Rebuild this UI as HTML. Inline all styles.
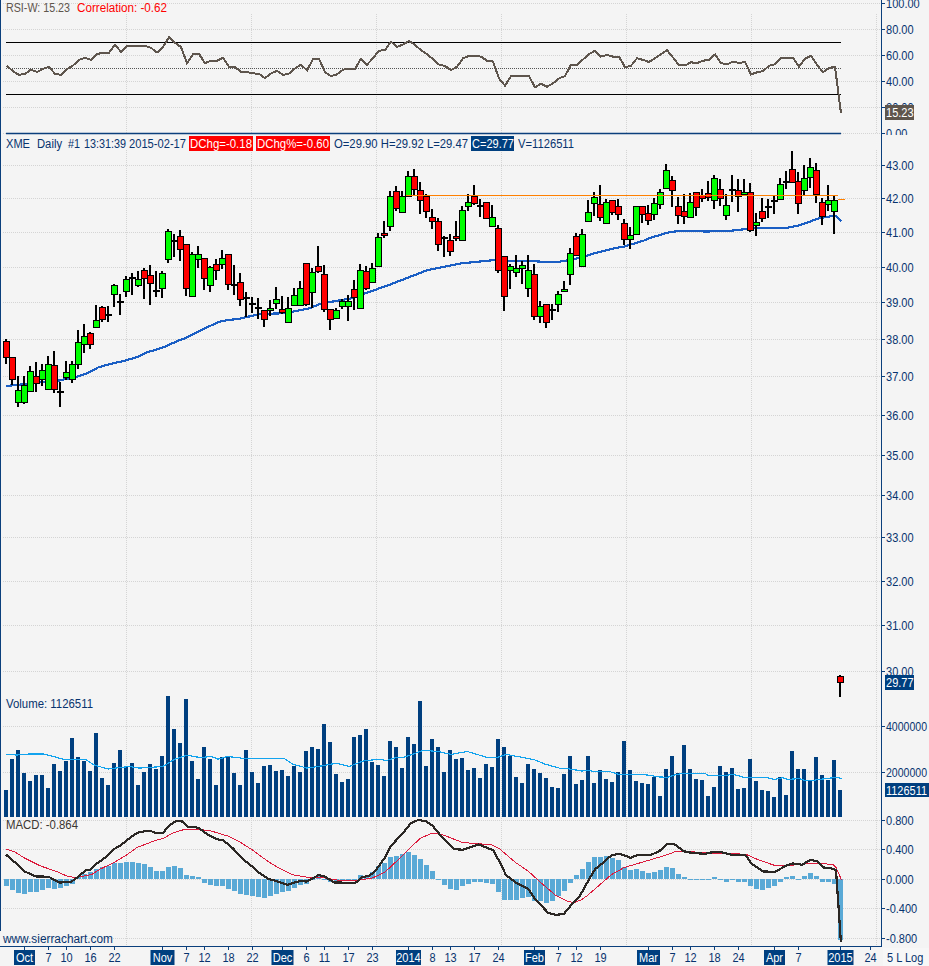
<!DOCTYPE html>
<html><head><meta charset="utf-8"><style>html,body{margin:0;padding:0;background:#f4f4f4;width:929px;height:966px;overflow:hidden}svg text{font-family:"Liberation Sans", sans-serif}</style></head>
<body><svg width="929" height="966" viewBox="0 0 929 966" style="display:block" font-family="Liberation Sans, sans-serif"><rect x="0" y="0" width="929" height="966" fill="#f4f4f4"/>
<line x1="3" y1="3.5" x2="880" y2="3.5" stroke="#d4d4d4" stroke-width="1" stroke-dasharray="1 1"/>
<line x1="3" y1="29.5" x2="880" y2="29.5" stroke="#d4d4d4" stroke-width="1" stroke-dasharray="1 1"/>
<line x1="3" y1="55.5" x2="880" y2="55.5" stroke="#d4d4d4" stroke-width="1" stroke-dasharray="1 1"/>
<line x1="3" y1="81.5" x2="880" y2="81.5" stroke="#d4d4d4" stroke-width="1" stroke-dasharray="1 1"/>
<line x1="3" y1="107.5" x2="880" y2="107.5" stroke="#d4d4d4" stroke-width="1" stroke-dasharray="1 1"/>
<line x1="3" y1="133.5" x2="880" y2="133.5" stroke="#d4d4d4" stroke-width="1" stroke-dasharray="1 1"/>
<line x1="3" y1="165.5" x2="880" y2="165.5" stroke="#d4d4d4" stroke-width="1" stroke-dasharray="1 1"/>
<line x1="3" y1="198.5" x2="880" y2="198.5" stroke="#d4d4d4" stroke-width="1" stroke-dasharray="1 1"/>
<line x1="3" y1="232.5" x2="880" y2="232.5" stroke="#d4d4d4" stroke-width="1" stroke-dasharray="1 1"/>
<line x1="3" y1="267.5" x2="880" y2="267.5" stroke="#d4d4d4" stroke-width="1" stroke-dasharray="1 1"/>
<line x1="3" y1="302.5" x2="880" y2="302.5" stroke="#d4d4d4" stroke-width="1" stroke-dasharray="1 1"/>
<line x1="3" y1="339.5" x2="880" y2="339.5" stroke="#d4d4d4" stroke-width="1" stroke-dasharray="1 1"/>
<line x1="3" y1="376.5" x2="880" y2="376.5" stroke="#d4d4d4" stroke-width="1" stroke-dasharray="1 1"/>
<line x1="3" y1="415.5" x2="880" y2="415.5" stroke="#d4d4d4" stroke-width="1" stroke-dasharray="1 1"/>
<line x1="3" y1="455.5" x2="880" y2="455.5" stroke="#d4d4d4" stroke-width="1" stroke-dasharray="1 1"/>
<line x1="3" y1="495.5" x2="880" y2="495.5" stroke="#d4d4d4" stroke-width="1" stroke-dasharray="1 1"/>
<line x1="3" y1="537.5" x2="880" y2="537.5" stroke="#d4d4d4" stroke-width="1" stroke-dasharray="1 1"/>
<line x1="3" y1="581.5" x2="880" y2="581.5" stroke="#d4d4d4" stroke-width="1" stroke-dasharray="1 1"/>
<line x1="3" y1="625.5" x2="880" y2="625.5" stroke="#d4d4d4" stroke-width="1" stroke-dasharray="1 1"/>
<line x1="3" y1="671.5" x2="880" y2="671.5" stroke="#d4d4d4" stroke-width="1" stroke-dasharray="1 1"/>
<line x1="3" y1="726.5" x2="880" y2="726.5" stroke="#d4d4d4" stroke-width="1" stroke-dasharray="1 1"/>
<line x1="3" y1="772.5" x2="880" y2="772.5" stroke="#d4d4d4" stroke-width="1" stroke-dasharray="1 1"/>
<line x1="3" y1="820.5" x2="880" y2="820.5" stroke="#d4d4d4" stroke-width="1" stroke-dasharray="1 1"/>
<line x1="3" y1="849.5" x2="880" y2="849.5" stroke="#d4d4d4" stroke-width="1" stroke-dasharray="1 1"/>
<line x1="3" y1="879.5" x2="880" y2="879.5" stroke="#d4d4d4" stroke-width="1" stroke-dasharray="1 1"/>
<line x1="3" y1="908.5" x2="880" y2="908.5" stroke="#d4d4d4" stroke-width="1" stroke-dasharray="1 1"/>
<line x1="3" y1="938.5" x2="880" y2="938.5" stroke="#d4d4d4" stroke-width="1" stroke-dasharray="1 1"/>
<line x1="126.5" y1="14" x2="126.5" y2="134" stroke="#d4d4d4" stroke-width="1" stroke-dasharray="1 1"/>
<line x1="126.5" y1="150" x2="126.5" y2="945" stroke="#d4d4d4" stroke-width="1" stroke-dasharray="1 1"/>
<line x1="251.5" y1="14" x2="251.5" y2="134" stroke="#d4d4d4" stroke-width="1" stroke-dasharray="1 1"/>
<line x1="251.5" y1="150" x2="251.5" y2="945" stroke="#d4d4d4" stroke-width="1" stroke-dasharray="1 1"/>
<line x1="376.5" y1="14" x2="376.5" y2="134" stroke="#d4d4d4" stroke-width="1" stroke-dasharray="1 1"/>
<line x1="376.5" y1="150" x2="376.5" y2="945" stroke="#d4d4d4" stroke-width="1" stroke-dasharray="1 1"/>
<line x1="501.5" y1="14" x2="501.5" y2="134" stroke="#d4d4d4" stroke-width="1" stroke-dasharray="1 1"/>
<line x1="501.5" y1="150" x2="501.5" y2="945" stroke="#d4d4d4" stroke-width="1" stroke-dasharray="1 1"/>
<line x1="626.5" y1="14" x2="626.5" y2="134" stroke="#d4d4d4" stroke-width="1" stroke-dasharray="1 1"/>
<line x1="626.5" y1="150" x2="626.5" y2="945" stroke="#d4d4d4" stroke-width="1" stroke-dasharray="1 1"/>
<line x1="751.5" y1="14" x2="751.5" y2="134" stroke="#d4d4d4" stroke-width="1" stroke-dasharray="1 1"/>
<line x1="751.5" y1="150" x2="751.5" y2="945" stroke="#d4d4d4" stroke-width="1" stroke-dasharray="1 1"/>
<line x1="876.5" y1="14" x2="876.5" y2="134" stroke="#d4d4d4" stroke-width="1" stroke-dasharray="1 1"/>
<line x1="876.5" y1="150" x2="876.5" y2="945" stroke="#d4d4d4" stroke-width="1" stroke-dasharray="1 1"/>
<line x1="6" y1="42.5" x2="841" y2="42.5" stroke="#000" stroke-width="1.2"/>
<line x1="6" y1="94.5" x2="841" y2="94.5" stroke="#000" stroke-width="1.2"/>
<line x1="6" y1="68.5" x2="841" y2="68.5" stroke="#555" stroke-width="1" stroke-dasharray="1 1"/>
<line x1="6" y1="133.5" x2="841" y2="133.5" stroke="#0b3f7c" stroke-width="1.4"/>
<polyline points="7,65.8 13,71.2 19,74.9 25,73.9 31,69.6 37,72 43,68.8 49,66.8 55,73.9 61,74.9 67,69 73,65.5 79,59.9 85,57.8 91,59.9 97,54.2 103,52.6 109,52.6 115,44.9 121,51.8 127,46.1 133,45.7 139,45.7 145,45.7 151,47.8 157,52.6 163,47 169,37.3 175,42.9 181,47 187,63.1 193,54.2 199,53.9 205,63.1 211,60.7 217,60.7 223,57.8 229,66.8 235,67.1 241,71.7 247,72 253,73.3 259,73.9 265,78.1 271,73.6 277,70.7 283,74.9 289,73.6 295,68.5 301,64.7 307,70.4 313,59.1 319,58.7 325,72.3 331,76 337,74.4 343,69.6 349,68.8 355,68.8 361,58.7 367,64.7 373,58.3 379,50.7 385,50.2 391,41.6 397,47 403,44.5 409,41 415,44.9 421,50.2 427,54.2 433,59.1 439,64.5 445,66 451,70 457,66.8 463,58.3 469,55.8 475,55.8 481,56.6 487,60.7 493,61.5 499,78.4 505,85.7 511,76 517,76 523,76 529,76 535,87.3 541,83.6 547,86.8 553,83.3 559,78.4 565,76 571,64.7 577,64.7 583,59.5 589,54.2 595,50.7 601,56.6 607,55 613,56.6 619,56.6 625,67.1 631,65.8 637,58.3 643,59.9 649,62 655,58.3 661,54.2 667,50.2 673,57.5 679,65.2 685,65.5 691,62.3 697,63.1 703,60.7 709,59.9 715,54.5 721,63.1 727,64.5 733,61.5 739,63.1 745,62 751,74.4 757,72.3 763,71.2 769,65.8 775,64.2 781,58.3 787,57.8 793,57.8 799,66.8 805,58.7 811,55.8 817,64.7 823,72.3 829,68 835,66.8 841,113.2" fill="none" stroke="#5e554d" stroke-width="2" stroke-linejoin="miter" shape-rendering="crispEdges"/>
<polyline points="6.3,386 16.5,385 25.8,384 33,382.5 45,381.8 59.4,380.5 66,379 76,376.8 82.8,375 90,371.9 98,367.5 111,363.8 125.5,360.6 138.4,356.5 146.5,352.5 162.7,347.6 178.8,340.4 186.9,337.5 203,329.1 219.2,321.8 227.3,320.2 240,318.6 253,315.6 261.2,314 285.4,313.2 293.5,311.5 309.7,308.3 321,303.5 330.7,301.9 350,298.6 366,293 387,285.7 427.8,270 461.7,263.3 494,260.1 508,260.7 531,261 541.8,261.7 559.6,261.7 575.7,258.8 585,256.6 591.9,253.9 608,249.9 617.3,247.7 624.2,246.6 645,240.2 649.6,238 669,232.3 681.9,230.7 706,231.5 729,231 745.8,229.1 754.8,227.8 787,227.8 800,225.2 819.4,218.1 835,215.6 841.4,221.1" fill="none" stroke="#1a5ec4" stroke-width="2.2" stroke-linejoin="round" shape-rendering="crispEdges"/>
<rect x="5" y="339" width="2" height="25" fill="#000"/>
<rect x="3" y="341" width="7" height="17" fill="#000"/>
<rect x="4" y="342" width="5" height="15" fill="#ff0000"/>
<rect x="11" y="357" width="2" height="28" fill="#000"/>
<rect x="9" y="357" width="7" height="23" fill="#000"/>
<rect x="10" y="358" width="5" height="21" fill="#ff0000"/>
<rect x="17" y="376" width="2" height="31" fill="#000"/>
<rect x="15" y="390" width="7" height="13" fill="#000"/>
<rect x="16" y="391" width="5" height="11" fill="#00ff00"/>
<rect x="23" y="376" width="2" height="28" fill="#000"/>
<rect x="21" y="385" width="7" height="18" fill="#000"/>
<rect x="22" y="386" width="5" height="16" fill="#00ff00"/>
<rect x="29" y="366" width="2" height="26" fill="#000"/>
<rect x="27" y="371" width="7" height="21" fill="#000"/>
<rect x="28" y="372" width="5" height="19" fill="#00ff00"/>
<rect x="35" y="362" width="2" height="30" fill="#000"/>
<rect x="33" y="376" width="7" height="8" fill="#000"/>
<rect x="34" y="377" width="5" height="6" fill="#ff0000"/>
<rect x="41" y="364" width="2" height="22" fill="#000"/>
<rect x="39" y="370" width="7" height="10" fill="#000"/>
<rect x="40" y="371" width="5" height="8" fill="#00ff00"/>
<rect x="47" y="356" width="2" height="34" fill="#000"/>
<rect x="45" y="364" width="7" height="26" fill="#000"/>
<rect x="46" y="365" width="5" height="24" fill="#00ff00"/>
<rect x="53" y="351" width="2" height="42" fill="#000"/>
<rect x="51" y="365" width="7" height="25" fill="#000"/>
<rect x="52" y="366" width="5" height="23" fill="#ff0000"/>
<rect x="59" y="382" width="2" height="25" fill="#000"/>
<rect x="57" y="391" width="7" height="2" fill="#000"/>
<rect x="65" y="361" width="2" height="19" fill="#000"/>
<rect x="63" y="372" width="7" height="6" fill="#000"/>
<rect x="64" y="373" width="5" height="4" fill="#00ff00"/>
<rect x="71" y="361" width="2" height="22" fill="#000"/>
<rect x="69" y="364" width="7" height="16" fill="#000"/>
<rect x="70" y="365" width="5" height="14" fill="#00ff00"/>
<rect x="77" y="330" width="2" height="39" fill="#000"/>
<rect x="75" y="342" width="7" height="23" fill="#000"/>
<rect x="76" y="343" width="5" height="21" fill="#00ff00"/>
<rect x="83" y="324" width="2" height="29" fill="#000"/>
<rect x="81" y="336" width="7" height="9" fill="#000"/>
<rect x="82" y="337" width="5" height="7" fill="#00ff00"/>
<rect x="89" y="332" width="2" height="17" fill="#000"/>
<rect x="87" y="333" width="7" height="12" fill="#000"/>
<rect x="88" y="334" width="5" height="10" fill="#ff0000"/>
<rect x="95" y="305" width="2" height="23" fill="#000"/>
<rect x="93" y="320" width="7" height="8" fill="#000"/>
<rect x="94" y="321" width="5" height="6" fill="#00ff00"/>
<rect x="101" y="306" width="2" height="16" fill="#000"/>
<rect x="99" y="307" width="7" height="13" fill="#000"/>
<rect x="100" y="308" width="5" height="11" fill="#ff0000"/>
<rect x="107" y="306" width="2" height="16" fill="#000"/>
<rect x="105" y="314" width="7" height="2" fill="#000"/>
<rect x="113" y="284" width="2" height="23" fill="#000"/>
<rect x="111" y="285" width="7" height="10" fill="#000"/>
<rect x="112" y="286" width="5" height="8" fill="#00ff00"/>
<rect x="119" y="294" width="2" height="21" fill="#000"/>
<rect x="117" y="301" width="7" height="2" fill="#000"/>
<rect x="125" y="276" width="2" height="21" fill="#000"/>
<rect x="123" y="279" width="7" height="13" fill="#000"/>
<rect x="124" y="280" width="5" height="11" fill="#00ff00"/>
<rect x="131" y="273" width="2" height="22" fill="#000"/>
<rect x="129" y="277" width="7" height="2" fill="#000"/>
<rect x="137" y="271" width="2" height="16" fill="#000"/>
<rect x="135" y="279" width="7" height="7" fill="#000"/>
<rect x="136" y="280" width="5" height="5" fill="#00ff00"/>
<rect x="143" y="268" width="2" height="31" fill="#000"/>
<rect x="141" y="270" width="7" height="9" fill="#000"/>
<rect x="142" y="271" width="5" height="7" fill="#ff0000"/>
<rect x="149" y="265" width="2" height="40" fill="#000"/>
<rect x="147" y="275" width="7" height="9" fill="#000"/>
<rect x="148" y="276" width="5" height="7" fill="#ff0000"/>
<rect x="155" y="271" width="2" height="26" fill="#000"/>
<rect x="153" y="290" width="7" height="2" fill="#000"/>
<rect x="161" y="271" width="2" height="27" fill="#000"/>
<rect x="159" y="273" width="7" height="16" fill="#000"/>
<rect x="160" y="274" width="5" height="14" fill="#00ff00"/>
<rect x="167" y="229" width="2" height="34" fill="#000"/>
<rect x="165" y="231" width="7" height="29" fill="#000"/>
<rect x="166" y="232" width="5" height="27" fill="#00ff00"/>
<rect x="173" y="234" width="2" height="23" fill="#000"/>
<rect x="171" y="240" width="7" height="2" fill="#000"/>
<rect x="179" y="230" width="2" height="31" fill="#000"/>
<rect x="177" y="236" width="7" height="14" fill="#000"/>
<rect x="178" y="237" width="5" height="12" fill="#ff0000"/>
<rect x="185" y="244" width="2" height="52" fill="#000"/>
<rect x="183" y="244" width="7" height="45" fill="#000"/>
<rect x="184" y="245" width="5" height="43" fill="#ff0000"/>
<rect x="191" y="252" width="2" height="45" fill="#000"/>
<rect x="189" y="254" width="7" height="43" fill="#000"/>
<rect x="190" y="255" width="5" height="41" fill="#00ff00"/>
<rect x="197" y="246" width="2" height="22" fill="#000"/>
<rect x="195" y="254" width="7" height="6" fill="#000"/>
<rect x="196" y="255" width="5" height="4" fill="#00ff00"/>
<rect x="203" y="258" width="2" height="32" fill="#000"/>
<rect x="201" y="258" width="7" height="21" fill="#000"/>
<rect x="202" y="259" width="5" height="19" fill="#ff0000"/>
<rect x="209" y="266" width="2" height="26" fill="#000"/>
<rect x="207" y="267" width="7" height="19" fill="#000"/>
<rect x="208" y="268" width="5" height="17" fill="#00ff00"/>
<rect x="215" y="259" width="2" height="21" fill="#000"/>
<rect x="213" y="264" width="7" height="7" fill="#000"/>
<rect x="214" y="265" width="5" height="5" fill="#ff0000"/>
<rect x="221" y="250" width="2" height="19" fill="#000"/>
<rect x="219" y="258" width="7" height="7" fill="#000"/>
<rect x="220" y="259" width="5" height="5" fill="#00ff00"/>
<rect x="227" y="254" width="2" height="36" fill="#000"/>
<rect x="225" y="254" width="7" height="31" fill="#000"/>
<rect x="226" y="255" width="5" height="29" fill="#ff0000"/>
<rect x="233" y="265" width="2" height="30" fill="#000"/>
<rect x="231" y="284" width="7" height="2" fill="#000"/>
<rect x="239" y="273" width="2" height="33" fill="#000"/>
<rect x="237" y="282" width="7" height="18" fill="#000"/>
<rect x="238" y="283" width="5" height="16" fill="#ff0000"/>
<rect x="245" y="292" width="2" height="25" fill="#000"/>
<rect x="243" y="297" width="7" height="2" fill="#000"/>
<rect x="251" y="297" width="2" height="16" fill="#000"/>
<rect x="249" y="303" width="7" height="2" fill="#000"/>
<rect x="257" y="298" width="2" height="21" fill="#000"/>
<rect x="255" y="307" width="7" height="2" fill="#000"/>
<rect x="263" y="310" width="2" height="17" fill="#000"/>
<rect x="261" y="310" width="7" height="10" fill="#000"/>
<rect x="262" y="311" width="5" height="8" fill="#ff0000"/>
<rect x="269" y="300" width="2" height="16" fill="#000"/>
<rect x="267" y="308" width="7" height="3" fill="#000"/>
<rect x="268" y="309" width="5" height="1" fill="#00ff00"/>
<rect x="275" y="287" width="2" height="22" fill="#000"/>
<rect x="273" y="299" width="7" height="5" fill="#000"/>
<rect x="274" y="300" width="5" height="3" fill="#00ff00"/>
<rect x="281" y="296" width="2" height="18" fill="#000"/>
<rect x="279" y="309" width="7" height="4" fill="#000"/>
<rect x="280" y="310" width="5" height="2" fill="#ff0000"/>
<rect x="287" y="297" width="2" height="26" fill="#000"/>
<rect x="285" y="308" width="7" height="15" fill="#000"/>
<rect x="286" y="309" width="5" height="13" fill="#00ff00"/>
<rect x="293" y="288" width="2" height="18" fill="#000"/>
<rect x="291" y="295" width="7" height="11" fill="#000"/>
<rect x="292" y="296" width="5" height="9" fill="#00ff00"/>
<rect x="299" y="281" width="2" height="25" fill="#000"/>
<rect x="297" y="288" width="7" height="18" fill="#000"/>
<rect x="298" y="289" width="5" height="16" fill="#00ff00"/>
<rect x="305" y="263" width="2" height="43" fill="#000"/>
<rect x="303" y="263" width="7" height="42" fill="#000"/>
<rect x="304" y="264" width="5" height="40" fill="#ff0000"/>
<rect x="311" y="268" width="2" height="40" fill="#000"/>
<rect x="309" y="272" width="7" height="21" fill="#000"/>
<rect x="310" y="273" width="5" height="19" fill="#00ff00"/>
<rect x="317" y="246" width="2" height="27" fill="#000"/>
<rect x="315" y="266" width="7" height="6" fill="#000"/>
<rect x="316" y="267" width="5" height="4" fill="#ff0000"/>
<rect x="323" y="265" width="2" height="47" fill="#000"/>
<rect x="321" y="274" width="7" height="36" fill="#000"/>
<rect x="322" y="275" width="5" height="34" fill="#ff0000"/>
<rect x="329" y="309" width="2" height="21" fill="#000"/>
<rect x="327" y="309" width="7" height="11" fill="#000"/>
<rect x="328" y="310" width="5" height="9" fill="#ff0000"/>
<rect x="335" y="308" width="2" height="11" fill="#000"/>
<rect x="333" y="310" width="7" height="9" fill="#000"/>
<rect x="334" y="311" width="5" height="7" fill="#00ff00"/>
<rect x="341" y="299" width="2" height="10" fill="#000"/>
<rect x="339" y="301" width="7" height="6" fill="#000"/>
<rect x="340" y="302" width="5" height="4" fill="#00ff00"/>
<rect x="347" y="295" width="2" height="26" fill="#000"/>
<rect x="345" y="301" width="7" height="6" fill="#000"/>
<rect x="346" y="302" width="5" height="4" fill="#00ff00"/>
<rect x="353" y="280" width="2" height="30" fill="#000"/>
<rect x="351" y="289" width="7" height="9" fill="#000"/>
<rect x="352" y="290" width="5" height="7" fill="#ff0000"/>
<rect x="359" y="264" width="2" height="45" fill="#000"/>
<rect x="357" y="270" width="7" height="39" fill="#000"/>
<rect x="358" y="271" width="5" height="37" fill="#00ff00"/>
<rect x="365" y="266" width="2" height="24" fill="#000"/>
<rect x="363" y="271" width="7" height="18" fill="#000"/>
<rect x="364" y="272" width="5" height="16" fill="#ff0000"/>
<rect x="371" y="263" width="2" height="20" fill="#000"/>
<rect x="369" y="268" width="7" height="15" fill="#000"/>
<rect x="370" y="269" width="5" height="13" fill="#00ff00"/>
<rect x="377" y="233" width="2" height="34" fill="#000"/>
<rect x="375" y="237" width="7" height="30" fill="#000"/>
<rect x="376" y="238" width="5" height="28" fill="#00ff00"/>
<rect x="383" y="221" width="2" height="17" fill="#000"/>
<rect x="381" y="233" width="7" height="3" fill="#000"/>
<rect x="382" y="234" width="5" height="1" fill="#ff0000"/>
<rect x="389" y="191" width="2" height="40" fill="#000"/>
<rect x="387" y="196" width="7" height="31" fill="#000"/>
<rect x="388" y="197" width="5" height="29" fill="#00ff00"/>
<rect x="395" y="186" width="2" height="25" fill="#000"/>
<rect x="393" y="191" width="7" height="18" fill="#000"/>
<rect x="394" y="192" width="5" height="16" fill="#ff0000"/>
<rect x="401" y="191" width="2" height="22" fill="#000"/>
<rect x="399" y="196" width="7" height="17" fill="#000"/>
<rect x="400" y="197" width="5" height="15" fill="#00ff00"/>
<rect x="407" y="171" width="2" height="26" fill="#000"/>
<rect x="405" y="176" width="7" height="21" fill="#000"/>
<rect x="406" y="177" width="5" height="19" fill="#00ff00"/>
<rect x="413" y="169" width="2" height="27" fill="#000"/>
<rect x="411" y="176" width="7" height="14" fill="#000"/>
<rect x="412" y="177" width="5" height="12" fill="#ff0000"/>
<rect x="419" y="182" width="2" height="32" fill="#000"/>
<rect x="417" y="190" width="7" height="11" fill="#000"/>
<rect x="418" y="191" width="5" height="9" fill="#ff0000"/>
<rect x="425" y="194" width="2" height="24" fill="#000"/>
<rect x="423" y="196" width="7" height="16" fill="#000"/>
<rect x="424" y="197" width="5" height="14" fill="#ff0000"/>
<rect x="431" y="209" width="2" height="20" fill="#000"/>
<rect x="429" y="217" width="7" height="5" fill="#000"/>
<rect x="430" y="218" width="5" height="3" fill="#ff0000"/>
<rect x="437" y="218" width="2" height="33" fill="#000"/>
<rect x="435" y="221" width="7" height="24" fill="#000"/>
<rect x="436" y="222" width="5" height="22" fill="#ff0000"/>
<rect x="443" y="236" width="2" height="21" fill="#000"/>
<rect x="441" y="237" width="7" height="2" fill="#000"/>
<rect x="449" y="234" width="2" height="22" fill="#000"/>
<rect x="447" y="240" width="7" height="12" fill="#000"/>
<rect x="448" y="241" width="5" height="10" fill="#ff0000"/>
<rect x="455" y="221" width="2" height="20" fill="#000"/>
<rect x="453" y="236" width="7" height="3" fill="#000"/>
<rect x="454" y="237" width="5" height="1" fill="#ff0000"/>
<rect x="461" y="206" width="2" height="35" fill="#000"/>
<rect x="459" y="210" width="7" height="31" fill="#000"/>
<rect x="460" y="211" width="5" height="29" fill="#00ff00"/>
<rect x="467" y="194" width="2" height="17" fill="#000"/>
<rect x="465" y="202" width="7" height="5" fill="#000"/>
<rect x="466" y="203" width="5" height="3" fill="#00ff00"/>
<rect x="473" y="185" width="2" height="20" fill="#000"/>
<rect x="471" y="196" width="7" height="8" fill="#000"/>
<rect x="472" y="197" width="5" height="6" fill="#ff0000"/>
<rect x="479" y="199" width="2" height="18" fill="#000"/>
<rect x="477" y="205" width="7" height="2" fill="#000"/>
<rect x="485" y="202" width="2" height="17" fill="#000"/>
<rect x="483" y="202" width="7" height="17" fill="#000"/>
<rect x="484" y="203" width="5" height="15" fill="#ff0000"/>
<rect x="491" y="205" width="2" height="22" fill="#000"/>
<rect x="489" y="217" width="7" height="10" fill="#000"/>
<rect x="490" y="218" width="5" height="8" fill="#00ff00"/>
<rect x="497" y="225" width="2" height="48" fill="#000"/>
<rect x="495" y="228" width="7" height="43" fill="#000"/>
<rect x="496" y="229" width="5" height="41" fill="#ff0000"/>
<rect x="503" y="256" width="2" height="55" fill="#000"/>
<rect x="501" y="256" width="7" height="41" fill="#000"/>
<rect x="502" y="257" width="5" height="39" fill="#ff0000"/>
<rect x="509" y="264" width="2" height="25" fill="#000"/>
<rect x="507" y="266" width="7" height="5" fill="#000"/>
<rect x="508" y="267" width="5" height="3" fill="#00ff00"/>
<rect x="515" y="255" width="2" height="22" fill="#000"/>
<rect x="513" y="268" width="7" height="5" fill="#000"/>
<rect x="514" y="269" width="5" height="3" fill="#00ff00"/>
<rect x="521" y="261" width="2" height="23" fill="#000"/>
<rect x="519" y="265" width="7" height="4" fill="#000"/>
<rect x="520" y="266" width="5" height="2" fill="#00ff00"/>
<rect x="527" y="255" width="2" height="42" fill="#000"/>
<rect x="525" y="270" width="7" height="19" fill="#000"/>
<rect x="526" y="271" width="5" height="17" fill="#00ff00"/>
<rect x="533" y="264" width="2" height="56" fill="#000"/>
<rect x="531" y="274" width="7" height="43" fill="#000"/>
<rect x="532" y="275" width="5" height="41" fill="#ff0000"/>
<rect x="539" y="301" width="2" height="22" fill="#000"/>
<rect x="537" y="306" width="7" height="11" fill="#000"/>
<rect x="538" y="307" width="5" height="9" fill="#00ff00"/>
<rect x="545" y="304" width="2" height="24" fill="#000"/>
<rect x="543" y="304" width="7" height="19" fill="#000"/>
<rect x="544" y="305" width="5" height="17" fill="#ff0000"/>
<rect x="551" y="304" width="2" height="16" fill="#000"/>
<rect x="549" y="309" width="7" height="2" fill="#000"/>
<rect x="557" y="291" width="2" height="21" fill="#000"/>
<rect x="555" y="294" width="7" height="11" fill="#000"/>
<rect x="556" y="295" width="5" height="9" fill="#00ff00"/>
<rect x="563" y="281" width="2" height="11" fill="#000"/>
<rect x="561" y="289" width="7" height="3" fill="#000"/>
<rect x="562" y="290" width="5" height="1" fill="#00ff00"/>
<rect x="569" y="248" width="2" height="37" fill="#000"/>
<rect x="567" y="253" width="7" height="22" fill="#000"/>
<rect x="568" y="254" width="5" height="20" fill="#00ff00"/>
<rect x="575" y="233" width="2" height="23" fill="#000"/>
<rect x="573" y="236" width="7" height="20" fill="#000"/>
<rect x="574" y="237" width="5" height="18" fill="#ff0000"/>
<rect x="581" y="229" width="2" height="38" fill="#000"/>
<rect x="579" y="234" width="7" height="33" fill="#000"/>
<rect x="580" y="235" width="5" height="31" fill="#00ff00"/>
<rect x="587" y="200" width="2" height="22" fill="#000"/>
<rect x="585" y="212" width="7" height="10" fill="#000"/>
<rect x="586" y="213" width="5" height="8" fill="#00ff00"/>
<rect x="593" y="192" width="2" height="24" fill="#000"/>
<rect x="591" y="197" width="7" height="7" fill="#000"/>
<rect x="592" y="198" width="5" height="5" fill="#00ff00"/>
<rect x="599" y="185" width="2" height="36" fill="#000"/>
<rect x="597" y="204" width="7" height="14" fill="#000"/>
<rect x="598" y="205" width="5" height="12" fill="#ff0000"/>
<rect x="605" y="199" width="2" height="25" fill="#000"/>
<rect x="603" y="202" width="7" height="22" fill="#000"/>
<rect x="604" y="203" width="5" height="20" fill="#00ff00"/>
<rect x="611" y="200" width="2" height="15" fill="#000"/>
<rect x="609" y="200" width="7" height="13" fill="#000"/>
<rect x="610" y="201" width="5" height="11" fill="#ff0000"/>
<rect x="617" y="199" width="2" height="21" fill="#000"/>
<rect x="615" y="206" width="7" height="9" fill="#000"/>
<rect x="616" y="207" width="5" height="7" fill="#ff0000"/>
<rect x="623" y="219" width="2" height="26" fill="#000"/>
<rect x="621" y="223" width="7" height="17" fill="#000"/>
<rect x="622" y="224" width="5" height="15" fill="#ff0000"/>
<rect x="629" y="227" width="2" height="22" fill="#000"/>
<rect x="627" y="235" width="7" height="5" fill="#000"/>
<rect x="628" y="236" width="5" height="3" fill="#00ff00"/>
<rect x="635" y="206" width="2" height="29" fill="#000"/>
<rect x="633" y="206" width="7" height="29" fill="#000"/>
<rect x="634" y="207" width="5" height="27" fill="#00ff00"/>
<rect x="641" y="206" width="2" height="17" fill="#000"/>
<rect x="639" y="206" width="7" height="9" fill="#000"/>
<rect x="640" y="207" width="5" height="7" fill="#ff0000"/>
<rect x="647" y="205" width="2" height="20" fill="#000"/>
<rect x="645" y="213" width="7" height="8" fill="#000"/>
<rect x="646" y="214" width="5" height="6" fill="#ff0000"/>
<rect x="653" y="198" width="2" height="22" fill="#000"/>
<rect x="651" y="203" width="7" height="12" fill="#000"/>
<rect x="652" y="204" width="5" height="10" fill="#00ff00"/>
<rect x="659" y="189" width="2" height="20" fill="#000"/>
<rect x="657" y="192" width="7" height="13" fill="#000"/>
<rect x="658" y="193" width="5" height="11" fill="#00ff00"/>
<rect x="665" y="164" width="2" height="25" fill="#000"/>
<rect x="663" y="170" width="7" height="19" fill="#000"/>
<rect x="664" y="171" width="5" height="17" fill="#00ff00"/>
<rect x="671" y="176" width="2" height="31" fill="#000"/>
<rect x="669" y="180" width="7" height="11" fill="#000"/>
<rect x="670" y="181" width="5" height="9" fill="#ff0000"/>
<rect x="677" y="197" width="2" height="27" fill="#000"/>
<rect x="675" y="206" width="7" height="10" fill="#000"/>
<rect x="676" y="207" width="5" height="8" fill="#ff0000"/>
<rect x="683" y="194" width="2" height="30" fill="#000"/>
<rect x="681" y="211" width="7" height="6" fill="#000"/>
<rect x="682" y="212" width="5" height="4" fill="#ff0000"/>
<rect x="689" y="193" width="2" height="25" fill="#000"/>
<rect x="687" y="202" width="7" height="16" fill="#000"/>
<rect x="688" y="203" width="5" height="14" fill="#00ff00"/>
<rect x="695" y="192" width="2" height="24" fill="#000"/>
<rect x="693" y="192" width="7" height="16" fill="#000"/>
<rect x="694" y="193" width="5" height="14" fill="#ff0000"/>
<rect x="701" y="189" width="2" height="13" fill="#000"/>
<rect x="699" y="195" width="7" height="4" fill="#000"/>
<rect x="700" y="196" width="5" height="2" fill="#ff0000"/>
<rect x="707" y="181" width="2" height="20" fill="#000"/>
<rect x="705" y="193" width="7" height="5" fill="#000"/>
<rect x="706" y="194" width="5" height="3" fill="#ff0000"/>
<rect x="713" y="175" width="2" height="34" fill="#000"/>
<rect x="711" y="178" width="7" height="23" fill="#000"/>
<rect x="712" y="179" width="5" height="21" fill="#00ff00"/>
<rect x="719" y="179" width="2" height="27" fill="#000"/>
<rect x="717" y="189" width="7" height="10" fill="#000"/>
<rect x="718" y="190" width="5" height="8" fill="#ff0000"/>
<rect x="725" y="194" width="2" height="26" fill="#000"/>
<rect x="723" y="205" width="7" height="11" fill="#000"/>
<rect x="724" y="206" width="5" height="9" fill="#00ff00"/>
<rect x="731" y="175" width="2" height="27" fill="#000"/>
<rect x="729" y="189" width="7" height="2" fill="#000"/>
<rect x="737" y="179" width="2" height="33" fill="#000"/>
<rect x="735" y="190" width="7" height="7" fill="#000"/>
<rect x="736" y="191" width="5" height="5" fill="#ff0000"/>
<rect x="743" y="179" width="2" height="15" fill="#000"/>
<rect x="741" y="192" width="7" height="3" fill="#000"/>
<rect x="742" y="193" width="5" height="1" fill="#00ff00"/>
<rect x="749" y="183" width="2" height="49" fill="#000"/>
<rect x="747" y="192" width="7" height="39" fill="#000"/>
<rect x="748" y="193" width="5" height="37" fill="#ff0000"/>
<rect x="755" y="213" width="2" height="23" fill="#000"/>
<rect x="753" y="222" width="7" height="4" fill="#000"/>
<rect x="754" y="223" width="5" height="2" fill="#00ff00"/>
<rect x="761" y="198" width="2" height="24" fill="#000"/>
<rect x="759" y="211" width="7" height="8" fill="#000"/>
<rect x="760" y="212" width="5" height="6" fill="#ff0000"/>
<rect x="767" y="199" width="2" height="19" fill="#000"/>
<rect x="765" y="206" width="7" height="2" fill="#000"/>
<rect x="773" y="196" width="2" height="18" fill="#000"/>
<rect x="771" y="200" width="7" height="2" fill="#000"/>
<rect x="779" y="178" width="2" height="22" fill="#000"/>
<rect x="777" y="184" width="7" height="16" fill="#000"/>
<rect x="778" y="185" width="5" height="14" fill="#00ff00"/>
<rect x="785" y="171" width="2" height="18" fill="#000"/>
<rect x="783" y="181" width="7" height="2" fill="#000"/>
<rect x="791" y="151" width="2" height="32" fill="#000"/>
<rect x="789" y="169" width="7" height="14" fill="#000"/>
<rect x="790" y="170" width="5" height="12" fill="#ff0000"/>
<rect x="797" y="172" width="2" height="42" fill="#000"/>
<rect x="795" y="181" width="7" height="23" fill="#000"/>
<rect x="796" y="182" width="5" height="21" fill="#ff0000"/>
<rect x="803" y="165" width="2" height="31" fill="#000"/>
<rect x="801" y="178" width="7" height="13" fill="#000"/>
<rect x="802" y="179" width="5" height="11" fill="#00ff00"/>
<rect x="809" y="158" width="2" height="30" fill="#000"/>
<rect x="807" y="167" width="7" height="11" fill="#000"/>
<rect x="808" y="168" width="5" height="9" fill="#00ff00"/>
<rect x="815" y="163" width="2" height="40" fill="#000"/>
<rect x="813" y="170" width="7" height="25" fill="#000"/>
<rect x="814" y="171" width="5" height="23" fill="#ff0000"/>
<rect x="821" y="198" width="2" height="27" fill="#000"/>
<rect x="819" y="202" width="7" height="15" fill="#000"/>
<rect x="820" y="203" width="5" height="13" fill="#ff0000"/>
<rect x="827" y="185" width="2" height="26" fill="#000"/>
<rect x="825" y="200" width="7" height="5" fill="#000"/>
<rect x="826" y="201" width="5" height="3" fill="#00ff00"/>
<rect x="833" y="196" width="2" height="38" fill="#000"/>
<rect x="831" y="200" width="7" height="12" fill="#000"/>
<rect x="832" y="201" width="5" height="10" fill="#00ff00"/>
<rect x="839" y="675" width="2" height="22" fill="#000"/>
<rect x="837" y="676" width="7" height="7" fill="#000"/>
<rect x="838" y="677" width="5" height="5" fill="#ff0000"/>
<line x1="406" y1="195.5" x2="838" y2="195.5" stroke="#ff8000" stroke-width="1"/>
<line x1="838" y1="199.5" x2="845" y2="199.5" stroke="#ff8000" stroke-width="1"/>
<rect x="4" y="790" width="4" height="27" fill="#003f7f"/>
<rect x="10" y="759" width="4" height="58" fill="#003f7f"/>
<rect x="16" y="750" width="4" height="67" fill="#003f7f"/>
<rect x="22" y="773" width="4" height="44" fill="#003f7f"/>
<rect x="28" y="781" width="4" height="36" fill="#003f7f"/>
<rect x="34" y="775" width="4" height="42" fill="#003f7f"/>
<rect x="40" y="775" width="4" height="42" fill="#003f7f"/>
<rect x="46" y="788" width="4" height="29" fill="#003f7f"/>
<rect x="52" y="764" width="4" height="53" fill="#003f7f"/>
<rect x="58" y="771" width="4" height="46" fill="#003f7f"/>
<rect x="64" y="761" width="4" height="56" fill="#003f7f"/>
<rect x="70" y="738" width="4" height="79" fill="#003f7f"/>
<rect x="76" y="757" width="4" height="60" fill="#003f7f"/>
<rect x="82" y="761" width="4" height="56" fill="#003f7f"/>
<rect x="88" y="771" width="4" height="46" fill="#003f7f"/>
<rect x="94" y="733" width="4" height="84" fill="#003f7f"/>
<rect x="100" y="778" width="4" height="39" fill="#003f7f"/>
<rect x="106" y="785" width="4" height="32" fill="#003f7f"/>
<rect x="112" y="763" width="4" height="54" fill="#003f7f"/>
<rect x="118" y="750" width="4" height="67" fill="#003f7f"/>
<rect x="124" y="766" width="4" height="51" fill="#003f7f"/>
<rect x="130" y="763" width="4" height="54" fill="#003f7f"/>
<rect x="136" y="785" width="4" height="32" fill="#003f7f"/>
<rect x="142" y="772" width="4" height="45" fill="#003f7f"/>
<rect x="148" y="764" width="4" height="53" fill="#003f7f"/>
<rect x="154" y="769" width="4" height="48" fill="#003f7f"/>
<rect x="160" y="756" width="4" height="61" fill="#003f7f"/>
<rect x="166" y="696" width="4" height="121" fill="#003f7f"/>
<rect x="172" y="729" width="4" height="88" fill="#003f7f"/>
<rect x="178" y="743" width="4" height="74" fill="#003f7f"/>
<rect x="184" y="699" width="4" height="118" fill="#003f7f"/>
<rect x="190" y="761" width="4" height="56" fill="#003f7f"/>
<rect x="196" y="779" width="4" height="38" fill="#003f7f"/>
<rect x="202" y="747" width="4" height="70" fill="#003f7f"/>
<rect x="208" y="759" width="4" height="58" fill="#003f7f"/>
<rect x="214" y="785" width="4" height="32" fill="#003f7f"/>
<rect x="220" y="757" width="4" height="60" fill="#003f7f"/>
<rect x="226" y="757" width="4" height="60" fill="#003f7f"/>
<rect x="232" y="773" width="4" height="44" fill="#003f7f"/>
<rect x="238" y="785" width="4" height="32" fill="#003f7f"/>
<rect x="244" y="750" width="4" height="67" fill="#003f7f"/>
<rect x="250" y="772" width="4" height="45" fill="#003f7f"/>
<rect x="256" y="783" width="4" height="34" fill="#003f7f"/>
<rect x="262" y="766" width="4" height="51" fill="#003f7f"/>
<rect x="268" y="765" width="4" height="52" fill="#003f7f"/>
<rect x="274" y="771" width="4" height="46" fill="#003f7f"/>
<rect x="280" y="770" width="4" height="47" fill="#003f7f"/>
<rect x="286" y="776" width="4" height="41" fill="#003f7f"/>
<rect x="292" y="766" width="4" height="51" fill="#003f7f"/>
<rect x="298" y="772" width="4" height="45" fill="#003f7f"/>
<rect x="304" y="751" width="4" height="66" fill="#003f7f"/>
<rect x="310" y="747" width="4" height="70" fill="#003f7f"/>
<rect x="316" y="749" width="4" height="68" fill="#003f7f"/>
<rect x="322" y="724" width="4" height="93" fill="#003f7f"/>
<rect x="328" y="742" width="4" height="75" fill="#003f7f"/>
<rect x="334" y="774" width="4" height="43" fill="#003f7f"/>
<rect x="340" y="782" width="4" height="35" fill="#003f7f"/>
<rect x="346" y="779" width="4" height="38" fill="#003f7f"/>
<rect x="352" y="737" width="4" height="80" fill="#003f7f"/>
<rect x="358" y="735" width="4" height="82" fill="#003f7f"/>
<rect x="364" y="729" width="4" height="88" fill="#003f7f"/>
<rect x="370" y="762" width="4" height="55" fill="#003f7f"/>
<rect x="376" y="765" width="4" height="52" fill="#003f7f"/>
<rect x="382" y="776" width="4" height="41" fill="#003f7f"/>
<rect x="388" y="741" width="4" height="76" fill="#003f7f"/>
<rect x="394" y="747" width="4" height="70" fill="#003f7f"/>
<rect x="400" y="768" width="4" height="49" fill="#003f7f"/>
<rect x="406" y="737" width="4" height="80" fill="#003f7f"/>
<rect x="412" y="744" width="4" height="73" fill="#003f7f"/>
<rect x="418" y="701" width="4" height="116" fill="#003f7f"/>
<rect x="424" y="766" width="4" height="51" fill="#003f7f"/>
<rect x="430" y="739" width="4" height="78" fill="#003f7f"/>
<rect x="436" y="747" width="4" height="70" fill="#003f7f"/>
<rect x="442" y="772" width="4" height="45" fill="#003f7f"/>
<rect x="448" y="750" width="4" height="67" fill="#003f7f"/>
<rect x="454" y="759" width="4" height="58" fill="#003f7f"/>
<rect x="460" y="758" width="4" height="59" fill="#003f7f"/>
<rect x="466" y="770" width="4" height="47" fill="#003f7f"/>
<rect x="472" y="768" width="4" height="49" fill="#003f7f"/>
<rect x="478" y="778" width="4" height="39" fill="#003f7f"/>
<rect x="484" y="764" width="4" height="53" fill="#003f7f"/>
<rect x="490" y="767" width="4" height="50" fill="#003f7f"/>
<rect x="496" y="739" width="4" height="78" fill="#003f7f"/>
<rect x="502" y="747" width="4" height="70" fill="#003f7f"/>
<rect x="508" y="756" width="4" height="61" fill="#003f7f"/>
<rect x="514" y="777" width="4" height="40" fill="#003f7f"/>
<rect x="520" y="783" width="4" height="34" fill="#003f7f"/>
<rect x="526" y="764" width="4" height="53" fill="#003f7f"/>
<rect x="532" y="769" width="4" height="48" fill="#003f7f"/>
<rect x="538" y="773" width="4" height="44" fill="#003f7f"/>
<rect x="544" y="778" width="4" height="39" fill="#003f7f"/>
<rect x="550" y="787" width="4" height="30" fill="#003f7f"/>
<rect x="556" y="788" width="4" height="29" fill="#003f7f"/>
<rect x="562" y="774" width="4" height="43" fill="#003f7f"/>
<rect x="568" y="756" width="4" height="61" fill="#003f7f"/>
<rect x="574" y="784" width="4" height="33" fill="#003f7f"/>
<rect x="580" y="780" width="4" height="37" fill="#003f7f"/>
<rect x="586" y="756" width="4" height="61" fill="#003f7f"/>
<rect x="592" y="783" width="4" height="34" fill="#003f7f"/>
<rect x="598" y="770" width="4" height="47" fill="#003f7f"/>
<rect x="604" y="779" width="4" height="38" fill="#003f7f"/>
<rect x="610" y="782" width="4" height="35" fill="#003f7f"/>
<rect x="616" y="772" width="4" height="45" fill="#003f7f"/>
<rect x="622" y="741" width="4" height="76" fill="#003f7f"/>
<rect x="628" y="770" width="4" height="47" fill="#003f7f"/>
<rect x="634" y="781" width="4" height="36" fill="#003f7f"/>
<rect x="640" y="783" width="4" height="34" fill="#003f7f"/>
<rect x="646" y="784" width="4" height="33" fill="#003f7f"/>
<rect x="652" y="777" width="4" height="40" fill="#003f7f"/>
<rect x="658" y="796" width="4" height="21" fill="#003f7f"/>
<rect x="664" y="769" width="4" height="48" fill="#003f7f"/>
<rect x="670" y="756" width="4" height="61" fill="#003f7f"/>
<rect x="676" y="773" width="4" height="44" fill="#003f7f"/>
<rect x="682" y="745" width="4" height="72" fill="#003f7f"/>
<rect x="688" y="769" width="4" height="48" fill="#003f7f"/>
<rect x="694" y="779" width="4" height="38" fill="#003f7f"/>
<rect x="700" y="780" width="4" height="37" fill="#003f7f"/>
<rect x="706" y="796" width="4" height="21" fill="#003f7f"/>
<rect x="712" y="787" width="4" height="30" fill="#003f7f"/>
<rect x="718" y="766" width="4" height="51" fill="#003f7f"/>
<rect x="724" y="772" width="4" height="45" fill="#003f7f"/>
<rect x="730" y="768" width="4" height="49" fill="#003f7f"/>
<rect x="736" y="789" width="4" height="28" fill="#003f7f"/>
<rect x="742" y="788" width="4" height="29" fill="#003f7f"/>
<rect x="748" y="759" width="4" height="58" fill="#003f7f"/>
<rect x="754" y="781" width="4" height="36" fill="#003f7f"/>
<rect x="760" y="790" width="4" height="27" fill="#003f7f"/>
<rect x="766" y="791" width="4" height="26" fill="#003f7f"/>
<rect x="772" y="797" width="4" height="20" fill="#003f7f"/>
<rect x="778" y="777" width="4" height="40" fill="#003f7f"/>
<rect x="784" y="795" width="4" height="22" fill="#003f7f"/>
<rect x="790" y="751" width="4" height="66" fill="#003f7f"/>
<rect x="796" y="769" width="4" height="48" fill="#003f7f"/>
<rect x="802" y="769" width="4" height="48" fill="#003f7f"/>
<rect x="808" y="781" width="4" height="36" fill="#003f7f"/>
<rect x="814" y="757" width="4" height="60" fill="#003f7f"/>
<rect x="820" y="775" width="4" height="42" fill="#003f7f"/>
<rect x="826" y="780" width="4" height="37" fill="#003f7f"/>
<rect x="832" y="760" width="4" height="57" fill="#003f7f"/>
<rect x="838" y="790" width="4" height="27" fill="#003f7f"/>
<polyline points="6,754.4 16.5,755 24,754.5 29,754 43.6,754 64.6,759.5 85.6,759.2 93.7,764.9 108,769 129,766.5 139,768.1 147,767.6 163,766.5 174.5,759.2 187.4,755.2 200.3,757.6 211.6,756.5 218,759.2 227.7,756.5 243.9,758.4 260,758.4 284.2,758.4 292.3,764 307,768.1 323.3,765.7 336.2,763.2 349.1,766.5 363.7,760.8 379.8,759.2 386.3,760.5 396,757.6 404,757.3 412.1,754.4 423.4,750.3 438,751.5 451.1,754.4 467.3,751.5 486.7,757.3 498,757.3 506,754.4 519,756.8 535.1,760 544.8,764 559.3,768.1 567.4,768.6 582,771 588.7,770.5 595.1,771.6 609.7,771.6 619.4,774.5 643.6,774.5 659.7,777 667.8,777.3 675.9,774.5 684,773.4 705,773.3 708.2,775.4 726,775.4 732.7,774.2 744,777.3 765,777.3 774.7,779.4 782.7,777.8 787.6,779.4 798.9,778.6 805.4,780.5 811.8,780.5 826.3,778.6 836,777.3 841.7,778.6" fill="none" stroke="#12a3ee" stroke-width="1.2" shape-rendering="crispEdges"/>
<rect x="4" y="879" width="5" height="7" fill="#59a9d6"/>
<rect x="10" y="879" width="5" height="11" fill="#59a9d6"/>
<rect x="16" y="879" width="5" height="14" fill="#59a9d6"/>
<rect x="22" y="879" width="5" height="15" fill="#59a9d6"/>
<rect x="28" y="879" width="5" height="13" fill="#59a9d6"/>
<rect x="34" y="879" width="5" height="13" fill="#59a9d6"/>
<rect x="40" y="879" width="5" height="11" fill="#59a9d6"/>
<rect x="46" y="879" width="5" height="9" fill="#59a9d6"/>
<rect x="52" y="879" width="5" height="10" fill="#59a9d6"/>
<rect x="58" y="879" width="5" height="9" fill="#59a9d6"/>
<rect x="64" y="879" width="5" height="7" fill="#59a9d6"/>
<rect x="70" y="879" width="5" height="5" fill="#59a9d6"/>
<rect x="76" y="877" width="5" height="2" fill="#59a9d6"/>
<rect x="82" y="874" width="5" height="5" fill="#59a9d6"/>
<rect x="88" y="872" width="5" height="7" fill="#59a9d6"/>
<rect x="94" y="869" width="5" height="10" fill="#59a9d6"/>
<rect x="100" y="867" width="5" height="12" fill="#59a9d6"/>
<rect x="106" y="866" width="5" height="13" fill="#59a9d6"/>
<rect x="112" y="863" width="5" height="16" fill="#59a9d6"/>
<rect x="118" y="863" width="5" height="16" fill="#59a9d6"/>
<rect x="124" y="862" width="5" height="17" fill="#59a9d6"/>
<rect x="130" y="862" width="5" height="17" fill="#59a9d6"/>
<rect x="136" y="863" width="5" height="16" fill="#59a9d6"/>
<rect x="142" y="864" width="5" height="15" fill="#59a9d6"/>
<rect x="148" y="867" width="5" height="12" fill="#59a9d6"/>
<rect x="154" y="871" width="5" height="8" fill="#59a9d6"/>
<rect x="160" y="871" width="5" height="8" fill="#59a9d6"/>
<rect x="166" y="867" width="5" height="12" fill="#59a9d6"/>
<rect x="172" y="866" width="5" height="13" fill="#59a9d6"/>
<rect x="178" y="868" width="5" height="11" fill="#59a9d6"/>
<rect x="184" y="875" width="5" height="4" fill="#59a9d6"/>
<rect x="190" y="876" width="5" height="3" fill="#59a9d6"/>
<rect x="196" y="877" width="5" height="2" fill="#59a9d6"/>
<rect x="202" y="879" width="5" height="4" fill="#59a9d6"/>
<rect x="208" y="879" width="5" height="6" fill="#59a9d6"/>
<rect x="214" y="879" width="5" height="7" fill="#59a9d6"/>
<rect x="220" y="879" width="5" height="7" fill="#59a9d6"/>
<rect x="226" y="879" width="5" height="10" fill="#59a9d6"/>
<rect x="232" y="879" width="5" height="12" fill="#59a9d6"/>
<rect x="238" y="879" width="5" height="15" fill="#59a9d6"/>
<rect x="244" y="879" width="5" height="16" fill="#59a9d6"/>
<rect x="250" y="879" width="5" height="17" fill="#59a9d6"/>
<rect x="256" y="879" width="5" height="18" fill="#59a9d6"/>
<rect x="262" y="879" width="5" height="19" fill="#59a9d6"/>
<rect x="268" y="879" width="5" height="17" fill="#59a9d6"/>
<rect x="274" y="879" width="5" height="15" fill="#59a9d6"/>
<rect x="280" y="879" width="5" height="13" fill="#59a9d6"/>
<rect x="286" y="879" width="5" height="12" fill="#59a9d6"/>
<rect x="292" y="879" width="5" height="9" fill="#59a9d6"/>
<rect x="298" y="879" width="5" height="6" fill="#59a9d6"/>
<rect x="304" y="879" width="5" height="5" fill="#59a9d6"/>
<rect x="310" y="879" width="5" height="1" fill="#59a9d6"/>
<rect x="316" y="876" width="5" height="3" fill="#59a9d6"/>
<rect x="322" y="879" width="5" height="1" fill="#59a9d6"/>
<rect x="328" y="879" width="5" height="3" fill="#59a9d6"/>
<rect x="334" y="879" width="5" height="3" fill="#59a9d6"/>
<rect x="340" y="879" width="5" height="1" fill="#59a9d6"/>
<rect x="346" y="879" width="5" height="1" fill="#59a9d6"/>
<rect x="352" y="879" width="5" height="1" fill="#59a9d6"/>
<rect x="358" y="875" width="5" height="4" fill="#59a9d6"/>
<rect x="364" y="876" width="5" height="3" fill="#59a9d6"/>
<rect x="370" y="872" width="5" height="7" fill="#59a9d6"/>
<rect x="376" y="866" width="5" height="13" fill="#59a9d6"/>
<rect x="382" y="863" width="5" height="16" fill="#59a9d6"/>
<rect x="388" y="857" width="5" height="22" fill="#59a9d6"/>
<rect x="394" y="856" width="5" height="23" fill="#59a9d6"/>
<rect x="400" y="854" width="5" height="25" fill="#59a9d6"/>
<rect x="406" y="852" width="5" height="27" fill="#59a9d6"/>
<rect x="412" y="855" width="5" height="24" fill="#59a9d6"/>
<rect x="418" y="859" width="5" height="20" fill="#59a9d6"/>
<rect x="424" y="865" width="5" height="14" fill="#59a9d6"/>
<rect x="430" y="871" width="5" height="8" fill="#59a9d6"/>
<rect x="436" y="879" width="5" height="1" fill="#59a9d6"/>
<rect x="442" y="879" width="5" height="6" fill="#59a9d6"/>
<rect x="448" y="879" width="5" height="10" fill="#59a9d6"/>
<rect x="454" y="879" width="5" height="11" fill="#59a9d6"/>
<rect x="460" y="879" width="5" height="7" fill="#59a9d6"/>
<rect x="466" y="879" width="5" height="5" fill="#59a9d6"/>
<rect x="472" y="879" width="5" height="3" fill="#59a9d6"/>
<rect x="478" y="879" width="5" height="3" fill="#59a9d6"/>
<rect x="484" y="879" width="5" height="4" fill="#59a9d6"/>
<rect x="490" y="879" width="5" height="5" fill="#59a9d6"/>
<rect x="496" y="879" width="5" height="13" fill="#59a9d6"/>
<rect x="502" y="879" width="5" height="21" fill="#59a9d6"/>
<rect x="508" y="879" width="5" height="21" fill="#59a9d6"/>
<rect x="514" y="879" width="5" height="21" fill="#59a9d6"/>
<rect x="520" y="879" width="5" height="19" fill="#59a9d6"/>
<rect x="526" y="879" width="5" height="18" fill="#59a9d6"/>
<rect x="532" y="879" width="5" height="22" fill="#59a9d6"/>
<rect x="538" y="879" width="5" height="22" fill="#59a9d6"/>
<rect x="544" y="879" width="5" height="24" fill="#59a9d6"/>
<rect x="550" y="879" width="5" height="22" fill="#59a9d6"/>
<rect x="556" y="879" width="5" height="17" fill="#59a9d6"/>
<rect x="562" y="879" width="5" height="12" fill="#59a9d6"/>
<rect x="568" y="879" width="5" height="4" fill="#59a9d6"/>
<rect x="574" y="875" width="5" height="4" fill="#59a9d6"/>
<rect x="580" y="869" width="5" height="10" fill="#59a9d6"/>
<rect x="586" y="862" width="5" height="17" fill="#59a9d6"/>
<rect x="592" y="857" width="5" height="22" fill="#59a9d6"/>
<rect x="598" y="857" width="5" height="22" fill="#59a9d6"/>
<rect x="604" y="856" width="5" height="23" fill="#59a9d6"/>
<rect x="610" y="858" width="5" height="21" fill="#59a9d6"/>
<rect x="616" y="860" width="5" height="19" fill="#59a9d6"/>
<rect x="622" y="867" width="5" height="12" fill="#59a9d6"/>
<rect x="628" y="870" width="5" height="9" fill="#59a9d6"/>
<rect x="634" y="869" width="5" height="10" fill="#59a9d6"/>
<rect x="640" y="871" width="5" height="8" fill="#59a9d6"/>
<rect x="646" y="873" width="5" height="6" fill="#59a9d6"/>
<rect x="652" y="872" width="5" height="7" fill="#59a9d6"/>
<rect x="658" y="870" width="5" height="9" fill="#59a9d6"/>
<rect x="664" y="867" width="5" height="12" fill="#59a9d6"/>
<rect x="670" y="868" width="5" height="11" fill="#59a9d6"/>
<rect x="676" y="874" width="5" height="5" fill="#59a9d6"/>
<rect x="682" y="877" width="5" height="2" fill="#59a9d6"/>
<rect x="688" y="879" width="5" height="1" fill="#59a9d6"/>
<rect x="694" y="879" width="5" height="1" fill="#59a9d6"/>
<rect x="700" y="879" width="5" height="1" fill="#59a9d6"/>
<rect x="706" y="879" width="5" height="1" fill="#59a9d6"/>
<rect x="712" y="877" width="5" height="2" fill="#59a9d6"/>
<rect x="718" y="879" width="5" height="1" fill="#59a9d6"/>
<rect x="724" y="879" width="5" height="3" fill="#59a9d6"/>
<rect x="730" y="879" width="5" height="1" fill="#59a9d6"/>
<rect x="736" y="879" width="5" height="3" fill="#59a9d6"/>
<rect x="742" y="879" width="5" height="3" fill="#59a9d6"/>
<rect x="748" y="879" width="5" height="7" fill="#59a9d6"/>
<rect x="754" y="879" width="5" height="10" fill="#59a9d6"/>
<rect x="760" y="879" width="5" height="11" fill="#59a9d6"/>
<rect x="766" y="879" width="5" height="9" fill="#59a9d6"/>
<rect x="772" y="879" width="5" height="7" fill="#59a9d6"/>
<rect x="778" y="879" width="5" height="3" fill="#59a9d6"/>
<rect x="784" y="877" width="5" height="2" fill="#59a9d6"/>
<rect x="790" y="876" width="5" height="3" fill="#59a9d6"/>
<rect x="796" y="879" width="5" height="1" fill="#59a9d6"/>
<rect x="802" y="876" width="5" height="3" fill="#59a9d6"/>
<rect x="808" y="873" width="5" height="6" fill="#59a9d6"/>
<rect x="814" y="876" width="5" height="3" fill="#59a9d6"/>
<rect x="820" y="879" width="5" height="3" fill="#59a9d6"/>
<rect x="826" y="879" width="5" height="3" fill="#59a9d6"/>
<rect x="832" y="879" width="5" height="5" fill="#59a9d6"/>
<rect x="838" y="879" width="5" height="61" fill="#59a9d6"/>
<polyline points="6,849.2 14.5,851.8 24.2,857.8 40.4,865.9 56.5,871.5 67.8,876.4 75.9,877.7 84,876 92,874.4 100.1,869.1 113,863.1 126,855.4 137.3,847.3 147,843.7 155.1,840.5 163.1,838.4 172.8,833.1 184.1,829.5 198.7,829.2 211.6,831.1 227.7,836 240.7,842.5 252,849.7 268.1,861.5 279.4,868.3 292.3,874.7 307.1,877.2 323.3,877.7 339.4,880.4 355.6,880.4 371.7,878.3 384.7,872.3 396,861.8 407.3,850.5 420.2,838.4 429.9,834 438,833.4 447.9,836.8 462.5,842.5 478.6,843.7 491.5,844.9 499.6,848.9 515.7,862.6 528.7,871.5 540,882 556.1,895.7 569,901.9 575.5,902.2 582,899.5 587.1,895.7 598.4,886 611.3,874.7 624.2,867.5 635.5,864.2 651.7,859.4 667.8,854.6 675.9,851.3 684,851.3 708.2,852.9 726,853.5 745.6,854.2 758.5,859.9 774.7,865.4 790.8,865.4 808.6,863.1 821.5,863.8 832.8,864.2 836,867.5 841.7,880.4" fill="none" stroke="#dc1a3c" stroke-width="1" shape-rendering="crispEdges"/>
<polyline points="6,854.6 16.1,863.4 24.2,871.2 35.5,876.4 48.4,876.7 59.7,882.5 71,882 77.5,877.2 85.6,870.4 90.4,869.6 96.9,863.4 105,857.8 113,849.7 121.1,844.9 129.2,838.4 137.3,832.8 145.3,831.1 150,830.7 155.1,832.8 163.1,832.8 169.6,825 176.1,821.1 182.5,821.5 187.4,826.6 193.8,827.1 198.7,827.9 206.7,834 218,839.5 222.9,840 232.6,848.1 243.9,859.9 252,866.3 260,873.5 268.1,878.8 276.2,880.9 287.5,884.8 299.1,881.2 307.1,881.5 318.5,875.1 324.9,876.7 334.6,882.5 355.6,882.8 362,877.2 368.5,876 375,871.5 384.7,857.8 391.1,845.7 404,832 410.5,823.4 418.6,819.8 426.6,821.5 433.1,826.3 441,836 454.4,849.2 462.5,849.7 478.6,844.5 493.1,850.2 499.6,861.8 506,875.1 515.7,882.5 528.7,889.3 535.1,899 548,912.7 556.1,915.1 564.2,913.5 572.3,903.8 579,897.4 587.1,882.8 595.1,869.1 603.2,862.6 611.3,855.4 619.4,853.8 630.7,857.8 638.7,854.6 651.7,854.6 659.7,850.8 667.8,843.7 674.3,844.1 684,851.3 692,852.9 705,853.8 713,852.1 721.1,852.1 732.7,855 745.6,855.4 752.1,864.2 763.4,871.5 774.7,871.8 787.6,865.1 792.4,863.4 802.1,864.7 810.2,859.9 816.7,861 823.1,867.5 829.6,868 836,869.9 840.9,941.8" fill="none" stroke="#2b2724" stroke-width="2.2" stroke-linejoin="round" shape-rendering="crispEdges"/>
<rect x="0" y="0" width="1" height="931" fill="#0b3f7c"/>
<rect x="881" y="0" width="1" height="947" fill="#0b3f7c"/>
<rect x="0" y="946" width="882" height="1" fill="#0b3f7c"/>
<rect x="882" y="3" width="3" height="1" fill="#0b3f7c"/>
<text x="886" y="8" fill="#07336e" font-size="12" text-anchor="start" textLength="33.7" lengthAdjust="spacingAndGlyphs">100.00</text>
<rect x="882" y="29" width="3" height="1" fill="#0b3f7c"/>
<text x="886" y="34" fill="#07336e" font-size="12" text-anchor="start" textLength="27.6" lengthAdjust="spacingAndGlyphs">80.00</text>
<rect x="882" y="55" width="3" height="1" fill="#0b3f7c"/>
<text x="886" y="60" fill="#07336e" font-size="12" text-anchor="start" textLength="27.6" lengthAdjust="spacingAndGlyphs">60.00</text>
<rect x="882" y="81" width="3" height="1" fill="#0b3f7c"/>
<text x="886" y="86" fill="#07336e" font-size="12" text-anchor="start" textLength="27.6" lengthAdjust="spacingAndGlyphs">40.00</text>
<rect x="882" y="107" width="3" height="1" fill="#0b3f7c"/>
<text x="886" y="112" fill="#07336e" font-size="12" text-anchor="start" textLength="27.6" lengthAdjust="spacingAndGlyphs">20.00</text>
<clipPath id="c0"><rect x="880" y="120" width="49" height="15"/></clipPath>
<rect x="882" y="133" width="3" height="1" fill="#0b3f7c"/>
<text x="886" y="138" fill="#07336e" font-size="12" text-anchor="start" textLength="21.4" lengthAdjust="spacingAndGlyphs" clip-path="url(#c0)">0.00</text>
<rect x="882" y="165" width="3" height="1" fill="#0b3f7c"/>
<text x="886" y="170" fill="#07336e" font-size="12" text-anchor="start" textLength="27.6" lengthAdjust="spacingAndGlyphs">43.00</text>
<rect x="882" y="198" width="3" height="1" fill="#0b3f7c"/>
<text x="886" y="203" fill="#07336e" font-size="12" text-anchor="start" textLength="27.6" lengthAdjust="spacingAndGlyphs">42.00</text>
<rect x="882" y="232" width="3" height="1" fill="#0b3f7c"/>
<text x="886" y="237" fill="#07336e" font-size="12" text-anchor="start" textLength="27.6" lengthAdjust="spacingAndGlyphs">41.00</text>
<rect x="882" y="267" width="3" height="1" fill="#0b3f7c"/>
<text x="886" y="272" fill="#07336e" font-size="12" text-anchor="start" textLength="27.6" lengthAdjust="spacingAndGlyphs">40.00</text>
<rect x="882" y="302" width="3" height="1" fill="#0b3f7c"/>
<text x="886" y="307" fill="#07336e" font-size="12" text-anchor="start" textLength="27.6" lengthAdjust="spacingAndGlyphs">39.00</text>
<rect x="882" y="339" width="3" height="1" fill="#0b3f7c"/>
<text x="886" y="344" fill="#07336e" font-size="12" text-anchor="start" textLength="27.6" lengthAdjust="spacingAndGlyphs">38.00</text>
<rect x="882" y="376" width="3" height="1" fill="#0b3f7c"/>
<text x="886" y="381" fill="#07336e" font-size="12" text-anchor="start" textLength="27.6" lengthAdjust="spacingAndGlyphs">37.00</text>
<rect x="882" y="415" width="3" height="1" fill="#0b3f7c"/>
<text x="886" y="420" fill="#07336e" font-size="12" text-anchor="start" textLength="27.6" lengthAdjust="spacingAndGlyphs">36.00</text>
<rect x="882" y="455" width="3" height="1" fill="#0b3f7c"/>
<text x="886" y="460" fill="#07336e" font-size="12" text-anchor="start" textLength="27.6" lengthAdjust="spacingAndGlyphs">35.00</text>
<rect x="882" y="495" width="3" height="1" fill="#0b3f7c"/>
<text x="886" y="500" fill="#07336e" font-size="12" text-anchor="start" textLength="27.6" lengthAdjust="spacingAndGlyphs">34.00</text>
<rect x="882" y="537" width="3" height="1" fill="#0b3f7c"/>
<text x="886" y="542" fill="#07336e" font-size="12" text-anchor="start" textLength="27.6" lengthAdjust="spacingAndGlyphs">33.00</text>
<rect x="882" y="581" width="3" height="1" fill="#0b3f7c"/>
<text x="886" y="586" fill="#07336e" font-size="12" text-anchor="start" textLength="27.6" lengthAdjust="spacingAndGlyphs">32.00</text>
<rect x="882" y="625" width="3" height="1" fill="#0b3f7c"/>
<text x="886" y="630" fill="#07336e" font-size="12" text-anchor="start" textLength="27.6" lengthAdjust="spacingAndGlyphs">31.00</text>
<rect x="882" y="671" width="3" height="1" fill="#0b3f7c"/>
<text x="886" y="676" fill="#07336e" font-size="12" text-anchor="start" textLength="27.6" lengthAdjust="spacingAndGlyphs">30.00</text>
<rect x="882" y="726" width="3" height="1" fill="#0b3f7c"/>
<text x="886" y="731" fill="#07336e" font-size="12" text-anchor="start" textLength="41" lengthAdjust="spacingAndGlyphs">4000000</text>
<rect x="882" y="772" width="3" height="1" fill="#0b3f7c"/>
<text x="886" y="777" fill="#07336e" font-size="12" text-anchor="start" textLength="41" lengthAdjust="spacingAndGlyphs">2000000</text>
<rect x="882" y="820" width="3" height="1" fill="#0b3f7c"/>
<text x="886" y="825" fill="#07336e" font-size="12" text-anchor="start" textLength="27.6" lengthAdjust="spacingAndGlyphs">0.800</text>
<rect x="882" y="849" width="3" height="1" fill="#0b3f7c"/>
<text x="886" y="854" fill="#07336e" font-size="12" text-anchor="start" textLength="27.6" lengthAdjust="spacingAndGlyphs">0.400</text>
<rect x="882" y="879" width="3" height="1" fill="#0b3f7c"/>
<text x="886" y="884" fill="#07336e" font-size="12" text-anchor="start" textLength="27.6" lengthAdjust="spacingAndGlyphs">0.000</text>
<rect x="882" y="908" width="3" height="1" fill="#0b3f7c"/>
<text x="886" y="913" fill="#07336e" font-size="12" text-anchor="start" textLength="31.2" lengthAdjust="spacingAndGlyphs">-0.400</text>
<rect x="882" y="938" width="3" height="1" fill="#0b3f7c"/>
<text x="886" y="943" fill="#07336e" font-size="12" text-anchor="start" textLength="31.2" lengthAdjust="spacingAndGlyphs">-0.800</text>
<rect x="885" y="105" width="29" height="15" fill="#5e554d"/>
<text x="886" y="117" fill="#fff" font-size="12" text-anchor="start" textLength="27.6" lengthAdjust="spacingAndGlyphs">15.23</text>
<rect x="885" y="675" width="29" height="15" fill="#003f7f"/>
<text x="886" y="687" fill="#fff" font-size="12" text-anchor="start" textLength="27.6" lengthAdjust="spacingAndGlyphs">29.77</text>
<rect x="885" y="783" width="44" height="14" fill="#003f7f"/>
<text x="886" y="795" fill="#fff" font-size="12" text-anchor="start" textLength="41" lengthAdjust="spacingAndGlyphs">1126511</text>
<rect x="24" y="947" width="1" height="3" fill="#0b3f7c"/>
<rect x="14.0" y="950" width="21.0" height="15" fill="#003f7f"/>
<text x="24.5" y="962" fill="#fff" font-size="12" text-anchor="middle" textLength="17.1" lengthAdjust="spacingAndGlyphs">Oct</text>
<rect x="48" y="947" width="1" height="3" fill="#0b3f7c"/>
<text x="48.5" y="962" fill="#07336e" font-size="12" text-anchor="middle" textLength="6.1" lengthAdjust="spacingAndGlyphs">7</text>
<rect x="66" y="947" width="1" height="3" fill="#0b3f7c"/>
<text x="66.5" y="962" fill="#07336e" font-size="12" text-anchor="middle" textLength="12.2" lengthAdjust="spacingAndGlyphs">10</text>
<rect x="90" y="947" width="1" height="3" fill="#0b3f7c"/>
<text x="90.5" y="962" fill="#07336e" font-size="12" text-anchor="middle" textLength="12.2" lengthAdjust="spacingAndGlyphs">16</text>
<rect x="114" y="947" width="1" height="3" fill="#0b3f7c"/>
<text x="114.5" y="962" fill="#07336e" font-size="12" text-anchor="middle" textLength="12.2" lengthAdjust="spacingAndGlyphs">22</text>
<rect x="162" y="947" width="1" height="3" fill="#0b3f7c"/>
<rect x="150.5" y="950" width="24.0" height="15" fill="#003f7f"/>
<text x="162.5" y="962" fill="#fff" font-size="12" text-anchor="middle" textLength="19.6" lengthAdjust="spacingAndGlyphs">Nov</text>
<rect x="186" y="947" width="1" height="3" fill="#0b3f7c"/>
<text x="186.5" y="962" fill="#07336e" font-size="12" text-anchor="middle" textLength="6.1" lengthAdjust="spacingAndGlyphs">7</text>
<rect x="204" y="947" width="1" height="3" fill="#0b3f7c"/>
<text x="204.5" y="962" fill="#07336e" font-size="12" text-anchor="middle" textLength="12.2" lengthAdjust="spacingAndGlyphs">12</text>
<rect x="228" y="947" width="1" height="3" fill="#0b3f7c"/>
<text x="228.5" y="962" fill="#07336e" font-size="12" text-anchor="middle" textLength="12.2" lengthAdjust="spacingAndGlyphs">18</text>
<rect x="252" y="947" width="1" height="3" fill="#0b3f7c"/>
<text x="252.5" y="962" fill="#07336e" font-size="12" text-anchor="middle" textLength="12.2" lengthAdjust="spacingAndGlyphs">22</text>
<rect x="282" y="947" width="1" height="3" fill="#0b3f7c"/>
<rect x="271.5" y="950" width="22.0" height="15" fill="#003f7f"/>
<text x="282.5" y="962" fill="#fff" font-size="12" text-anchor="middle" textLength="19.6" lengthAdjust="spacingAndGlyphs">Dec</text>
<rect x="306" y="947" width="1" height="3" fill="#0b3f7c"/>
<text x="306.5" y="962" fill="#07336e" font-size="12" text-anchor="middle" textLength="6.1" lengthAdjust="spacingAndGlyphs">6</text>
<rect x="324" y="947" width="1" height="3" fill="#0b3f7c"/>
<text x="324.5" y="962" fill="#07336e" font-size="12" text-anchor="middle" textLength="11.4" lengthAdjust="spacingAndGlyphs">11</text>
<rect x="348" y="947" width="1" height="3" fill="#0b3f7c"/>
<text x="348.5" y="962" fill="#07336e" font-size="12" text-anchor="middle" textLength="12.2" lengthAdjust="spacingAndGlyphs">17</text>
<rect x="372" y="947" width="1" height="3" fill="#0b3f7c"/>
<text x="372.5" y="962" fill="#07336e" font-size="12" text-anchor="middle" textLength="12.2" lengthAdjust="spacingAndGlyphs">23</text>
<rect x="408" y="947" width="1" height="3" fill="#0b3f7c"/>
<rect x="396.0" y="950" width="25.0" height="15" fill="#003f7f"/>
<text x="408.5" y="962" fill="#fff" font-size="12" text-anchor="middle" textLength="24.5" lengthAdjust="spacingAndGlyphs">2014</text>
<rect x="432" y="947" width="1" height="3" fill="#0b3f7c"/>
<text x="432.5" y="962" fill="#07336e" font-size="12" text-anchor="middle" textLength="6.1" lengthAdjust="spacingAndGlyphs">8</text>
<rect x="450" y="947" width="1" height="3" fill="#0b3f7c"/>
<text x="450.5" y="962" fill="#07336e" font-size="12" text-anchor="middle" textLength="12.2" lengthAdjust="spacingAndGlyphs">13</text>
<rect x="474" y="947" width="1" height="3" fill="#0b3f7c"/>
<text x="474.5" y="962" fill="#07336e" font-size="12" text-anchor="middle" textLength="12.2" lengthAdjust="spacingAndGlyphs">17</text>
<rect x="498" y="947" width="1" height="3" fill="#0b3f7c"/>
<text x="498.5" y="962" fill="#07336e" font-size="12" text-anchor="middle" textLength="12.2" lengthAdjust="spacingAndGlyphs">24</text>
<rect x="534" y="947" width="1" height="3" fill="#0b3f7c"/>
<rect x="524.0" y="950" width="21.0" height="15" fill="#003f7f"/>
<text x="534.5" y="962" fill="#fff" font-size="12" text-anchor="middle" textLength="19.0" lengthAdjust="spacingAndGlyphs">Feb</text>
<rect x="558" y="947" width="1" height="3" fill="#0b3f7c"/>
<text x="558.5" y="962" fill="#07336e" font-size="12" text-anchor="middle" textLength="6.1" lengthAdjust="spacingAndGlyphs">7</text>
<rect x="576" y="947" width="1" height="3" fill="#0b3f7c"/>
<text x="576.5" y="962" fill="#07336e" font-size="12" text-anchor="middle" textLength="12.2" lengthAdjust="spacingAndGlyphs">12</text>
<rect x="600" y="947" width="1" height="3" fill="#0b3f7c"/>
<text x="600.5" y="962" fill="#07336e" font-size="12" text-anchor="middle" textLength="12.2" lengthAdjust="spacingAndGlyphs">19</text>
<rect x="648" y="947" width="1" height="3" fill="#0b3f7c"/>
<rect x="637.0" y="950" width="23.0" height="15" fill="#003f7f"/>
<text x="648.5" y="962" fill="#fff" font-size="12" text-anchor="middle" textLength="18.9" lengthAdjust="spacingAndGlyphs">Mar</text>
<rect x="672" y="947" width="1" height="3" fill="#0b3f7c"/>
<text x="672.5" y="962" fill="#07336e" font-size="12" text-anchor="middle" textLength="6.1" lengthAdjust="spacingAndGlyphs">7</text>
<rect x="690" y="947" width="1" height="3" fill="#0b3f7c"/>
<text x="690.5" y="962" fill="#07336e" font-size="12" text-anchor="middle" textLength="12.2" lengthAdjust="spacingAndGlyphs">12</text>
<rect x="714" y="947" width="1" height="3" fill="#0b3f7c"/>
<text x="714.5" y="962" fill="#07336e" font-size="12" text-anchor="middle" textLength="12.2" lengthAdjust="spacingAndGlyphs">18</text>
<rect x="738" y="947" width="1" height="3" fill="#0b3f7c"/>
<text x="738.5" y="962" fill="#07336e" font-size="12" text-anchor="middle" textLength="12.2" lengthAdjust="spacingAndGlyphs">24</text>
<rect x="774" y="947" width="1" height="3" fill="#0b3f7c"/>
<rect x="764.0" y="950" width="21.0" height="15" fill="#003f7f"/>
<text x="774.5" y="962" fill="#fff" font-size="12" text-anchor="middle" textLength="17.1" lengthAdjust="spacingAndGlyphs">Apr</text>
<rect x="798" y="947" width="1" height="3" fill="#0b3f7c"/>
<text x="798.5" y="962" fill="#07336e" font-size="12" text-anchor="middle" textLength="6.1" lengthAdjust="spacingAndGlyphs">7</text>
<rect x="840" y="947" width="1" height="3" fill="#0b3f7c"/>
<rect x="827.5" y="950" width="26.0" height="15" fill="#003f7f"/>
<text x="840.5" y="962" fill="#fff" font-size="12" text-anchor="middle" textLength="24.5" lengthAdjust="spacingAndGlyphs">2015</text>
<rect x="870" y="947" width="1" height="3" fill="#0b3f7c"/>
<text x="870.5" y="962" fill="#07336e" font-size="12" text-anchor="middle" textLength="12.2" lengthAdjust="spacingAndGlyphs">24</text>
<rect x="883" y="948" width="46" height="18" fill="#f7f7f7"/>
<text x="887" y="962" fill="#07336e" font-size="12" text-anchor="start" textLength="36.3" lengthAdjust="spacingAndGlyphs">5 L Log</text>
<text x="6" y="12" fill="#5e554d" font-size="12" text-anchor="start" textLength="64" lengthAdjust="spacingAndGlyphs">RSI-W: 15.23</text>
<text x="77" y="12" fill="#ff0000" font-size="12" text-anchor="start" textLength="90" lengthAdjust="spacingAndGlyphs">Correlation: -0.62</text>
<text x="6" y="148" fill="#07336e" font-size="12" text-anchor="start" textLength="24" lengthAdjust="spacingAndGlyphs">XME</text>
<text x="37" y="148" fill="#07336e" font-size="12" text-anchor="start" textLength="25" lengthAdjust="spacingAndGlyphs">Daily</text>
<text x="68" y="148" fill="#07336e" font-size="12" text-anchor="start" textLength="12" lengthAdjust="spacingAndGlyphs">#1</text>
<text x="84" y="148" fill="#07336e" font-size="12" text-anchor="start" textLength="42" lengthAdjust="spacingAndGlyphs">13:31:39</text>
<text x="129" y="148" fill="#07336e" font-size="12" text-anchor="start" textLength="57" lengthAdjust="spacingAndGlyphs">2015-02-17</text>
<rect x="189" y="136" width="64" height="15" fill="#ff0000"/>
<text x="190" y="148" fill="#fff" font-size="12" text-anchor="start" textLength="62" lengthAdjust="spacingAndGlyphs">DChg=-0.18</text>
<rect x="256" y="136" width="74" height="15" fill="#ff0000"/>
<text x="257" y="148" fill="#fff" font-size="12" text-anchor="start" textLength="72" lengthAdjust="spacingAndGlyphs">DChg%=-0.60</text>
<text x="334" y="148" fill="#07336e" font-size="12" text-anchor="start" textLength="134" lengthAdjust="spacingAndGlyphs">O=29.90 H=29.92 L=29.47</text>
<rect x="471" y="136" width="43" height="15" fill="#003f7f"/>
<text x="472" y="148" fill="#fff" font-size="12" text-anchor="start" textLength="42" lengthAdjust="spacingAndGlyphs">C=29.77</text>
<text x="518" y="148" fill="#07336e" font-size="12" text-anchor="start" textLength="56" lengthAdjust="spacingAndGlyphs">V=1126511</text>
<text x="6" y="708" fill="#07336e" font-size="12" text-anchor="start" textLength="87" lengthAdjust="spacingAndGlyphs">Volume: 1126511</text>
<text x="6" y="829" fill="#3b3531" font-size="12" text-anchor="start" textLength="72" lengthAdjust="spacingAndGlyphs">MACD: -0.864</text>
<text x="3" y="943" fill="#07336e" font-size="12" text-anchor="start" textLength="110" lengthAdjust="spacingAndGlyphs">www.sierrachart.com</text></svg></body></html>
